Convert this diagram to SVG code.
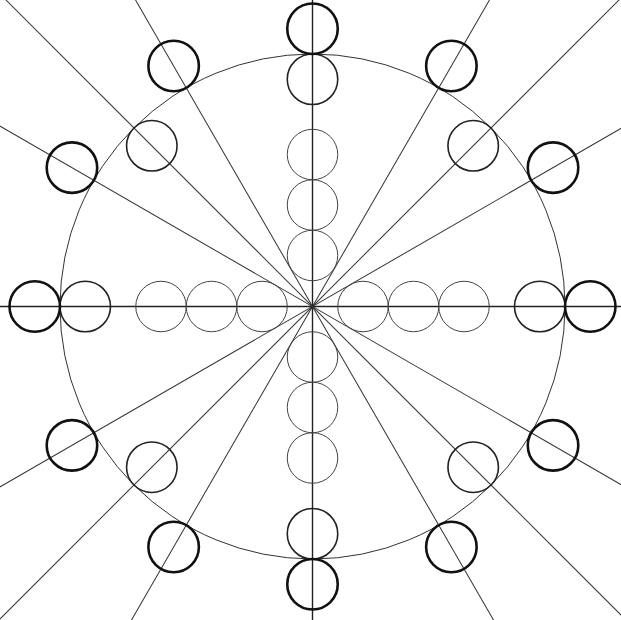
<svg xmlns="http://www.w3.org/2000/svg" width="621" height="620" viewBox="0 0 621 620">
<style>
.ln{stroke:#333;stroke-width:1;fill:none}
.axis{stroke:#222;stroke-width:1.4;fill:none}
.big{stroke:#333;stroke-width:1;fill:none}
.thin{stroke:#444;stroke-width:1;fill:none}
.mid{stroke:#222;stroke-width:1.6;fill:none}
.thick{stroke:#111;stroke-width:2.6;fill:none}
</style>
<rect width="621" height="620" fill="#fff"/>
<g id="connectors" transform="translate(312.5 306.5)">
<line class="axis" x1="-700" y1="0" x2="700" y2="0"/>
<line class="ln" x1="-700" y1="0" x2="700" y2="0" transform="rotate(-30)"/>
<line class="ln" x1="-700" y1="0" x2="700" y2="0" transform="rotate(-45)"/>
<line class="ln" x1="-700" y1="0" x2="700" y2="0" transform="rotate(-60)"/>
<line class="axis" x1="-700" y1="0" x2="700" y2="0" transform="rotate(-90)"/>
<line class="ln" x1="-700" y1="0" x2="700" y2="0" transform="rotate(-120)"/>
<line class="ln" x1="-700" y1="0" x2="700" y2="0" transform="rotate(-135)"/>
<line class="ln" x1="-700" y1="0" x2="700" y2="0" transform="rotate(-150)"/>
</g>
<g id="big-circle"><circle class="big" cx="312.5" cy="306.5" r="252.5"/></g>
<g id="inner-circles">
<circle class="thin" cx="312.5" cy="255.5" r="25.25"/>
<circle class="thin" cx="312.5" cy="205" r="25.25"/>
<circle class="thin" cx="312.5" cy="154.5" r="25.25"/>
<circle class="thin" cx="312.5" cy="357" r="25.25"/>
<circle class="thin" cx="312.5" cy="407.5" r="25.25"/>
<circle class="thin" cx="312.5" cy="458" r="25.25"/>
<circle class="thin" cx="262" cy="306.5" r="25.25"/>
<circle class="thin" cx="211.5" cy="306.5" r="25.25"/>
<circle class="thin" cx="161" cy="306.5" r="25.25"/>
<circle class="thin" cx="363" cy="306.5" r="25.25"/>
<circle class="thin" cx="413.5" cy="306.5" r="25.25"/>
<circle class="thin" cx="464" cy="306.5" r="25.25"/>
</g>
<g id="ring-inner">
<circle class="mid" cx="539.75" cy="306.5" r="25.25"/>
<circle class="mid" cx="473.19" cy="145.81" r="25.25"/>
<circle class="mid" cx="312.5" cy="79.25" r="25.25"/>
<circle class="mid" cx="151.81" cy="145.81" r="25.25"/>
<circle class="mid" cx="85.25" cy="306.5" r="25.25"/>
<circle class="mid" cx="151.81" cy="467.19" r="25.25"/>
<circle class="mid" cx="312.5" cy="533.75" r="25.25"/>
<circle class="mid" cx="473.19" cy="467.19" r="25.25"/>
</g>
<g id="ring-outer">
<circle class="thick" cx="590.25" cy="306.5" r="25.25"/>
<circle class="thick" cx="553.04" cy="167.63" r="25.25"/>
<circle class="thick" cx="451.38" cy="65.96" r="25.25"/>
<circle class="thick" cx="312.5" cy="28.75" r="25.25"/>
<circle class="thick" cx="173.63" cy="65.96" r="25.25"/>
<circle class="thick" cx="71.96" cy="167.63" r="25.25"/>
<circle class="thick" cx="34.75" cy="306.5" r="25.25"/>
<circle class="thick" cx="71.96" cy="445.38" r="25.25"/>
<circle class="thick" cx="173.63" cy="547.04" r="25.25"/>
<circle class="thick" cx="312.5" cy="584.25" r="25.25"/>
<circle class="thick" cx="451.38" cy="547.04" r="25.25"/>
<circle class="thick" cx="553.04" cy="445.38" r="25.25"/>
</g>
</svg>
